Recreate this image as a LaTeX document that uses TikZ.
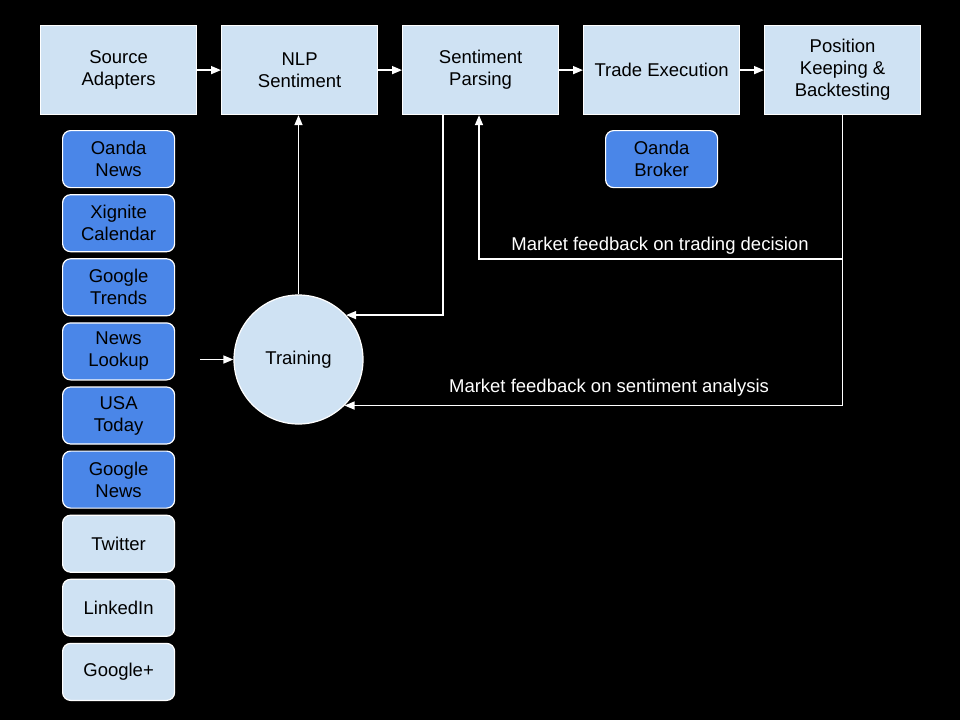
\documentclass[tikz,border=0pt]{standalone}
\usepackage{fontspec}
\setmainfont{Liberation Sans}
\usetikzlibrary{arrows.meta,calc}
\definecolor{lightbox}{HTML}{CFE2F3}
\definecolor{darkbox}{HTML}{4A86E8}
\begin{document}
\begin{tikzpicture}[x=1pt,y=-1pt,
  txt/.style={font=\fontsize{18.5}{22}\selectfont, align=center, inner sep=0pt},
  stage/.style={txt, draw=white, fill=lightbox, line width=1.2pt, minimum width=156pt, minimum height=89pt, anchor=north west},
  srcbox/.style={txt, draw=white, line width=1.2pt, rounded corners=8pt, minimum width=112pt, minimum height=57pt, anchor=north west},
  dsrc/.style={srcbox, fill=darkbox},
  lsrc/.style={srcbox, fill=lightbox},
  flow/.style={draw=white, line width=1.5pt, -{Triangle[length=10pt,width=8pt]}},
  lbl/.style={txt, text=white}
]
\fill[black] (0,0) rectangle (960,720);
\useasboundingbox (0,0) rectangle (960,720);

\node[stage] (src) at (40,25) {Source\\Adapters};
\node[stage] (nlp) at (221,25) {NLP\\Sentiment};
\node[stage] (par) at (402,25) {Sentiment\\Parsing};
\node[stage] (trd) at (583,25) {Trade Execution};
\node[stage] (pos) at (764,25) {Position\\Keeping \&\\Backtesting};

\node[dsrc] (s1) at (62,130) {Oanda\\News};
\node[dsrc] (s2) at (62,194.1) {Xignite\\Calendar};
\node[dsrc] (s3) at (62,258.2) {Google\\Trends};
\node[dsrc] (s4) at (62,322.3) {News\\Lookup};
\node[dsrc] (s5) at (62,386.4) {USA\\Today};
\node[dsrc] (s6) at (62,450.5) {Google\\News};
\node[lsrc] (s7) at (62,514.6) {Twitter};
\node[lsrc] (s8) at (62,578.7) {LinkedIn};
\node[lsrc] (s9) at (62,642.8) {Google+};

\node[dsrc] (brk) at (605,130) {Oanda\\Broker};

\node[txt, circle, draw=white, fill=lightbox, line width=1.2pt, minimum size=129pt] (trn) at (298.5,359.5) {Training};

\draw[flow] (src) -- (nlp);
\draw[flow] (nlp) -- (par);
\draw[flow] (par) -- (trd);
\draw[flow] (trd) -- (pos);
\draw[flow] (trn.north) -- (trn.north |- nlp.south);
\draw[flow] ($(par.south west)+(41,0)$) |- (trn.43.6);
\draw[flow] (pos.south) -- ++(0,144) -| ($(par.south west)+(77,0)$);
\draw[flow] (pos.south) |- (trn.-45);
\coordinate (in) at (200,359.5);
\draw[flow] (in) -- (trn.west);

\node[lbl] (l1) at (660,246) {Market feedback on trading decision};
\node[lbl] (l2) at (609,388) {Market feedback on sentiment analysis};
\end{tikzpicture}
\end{document}
